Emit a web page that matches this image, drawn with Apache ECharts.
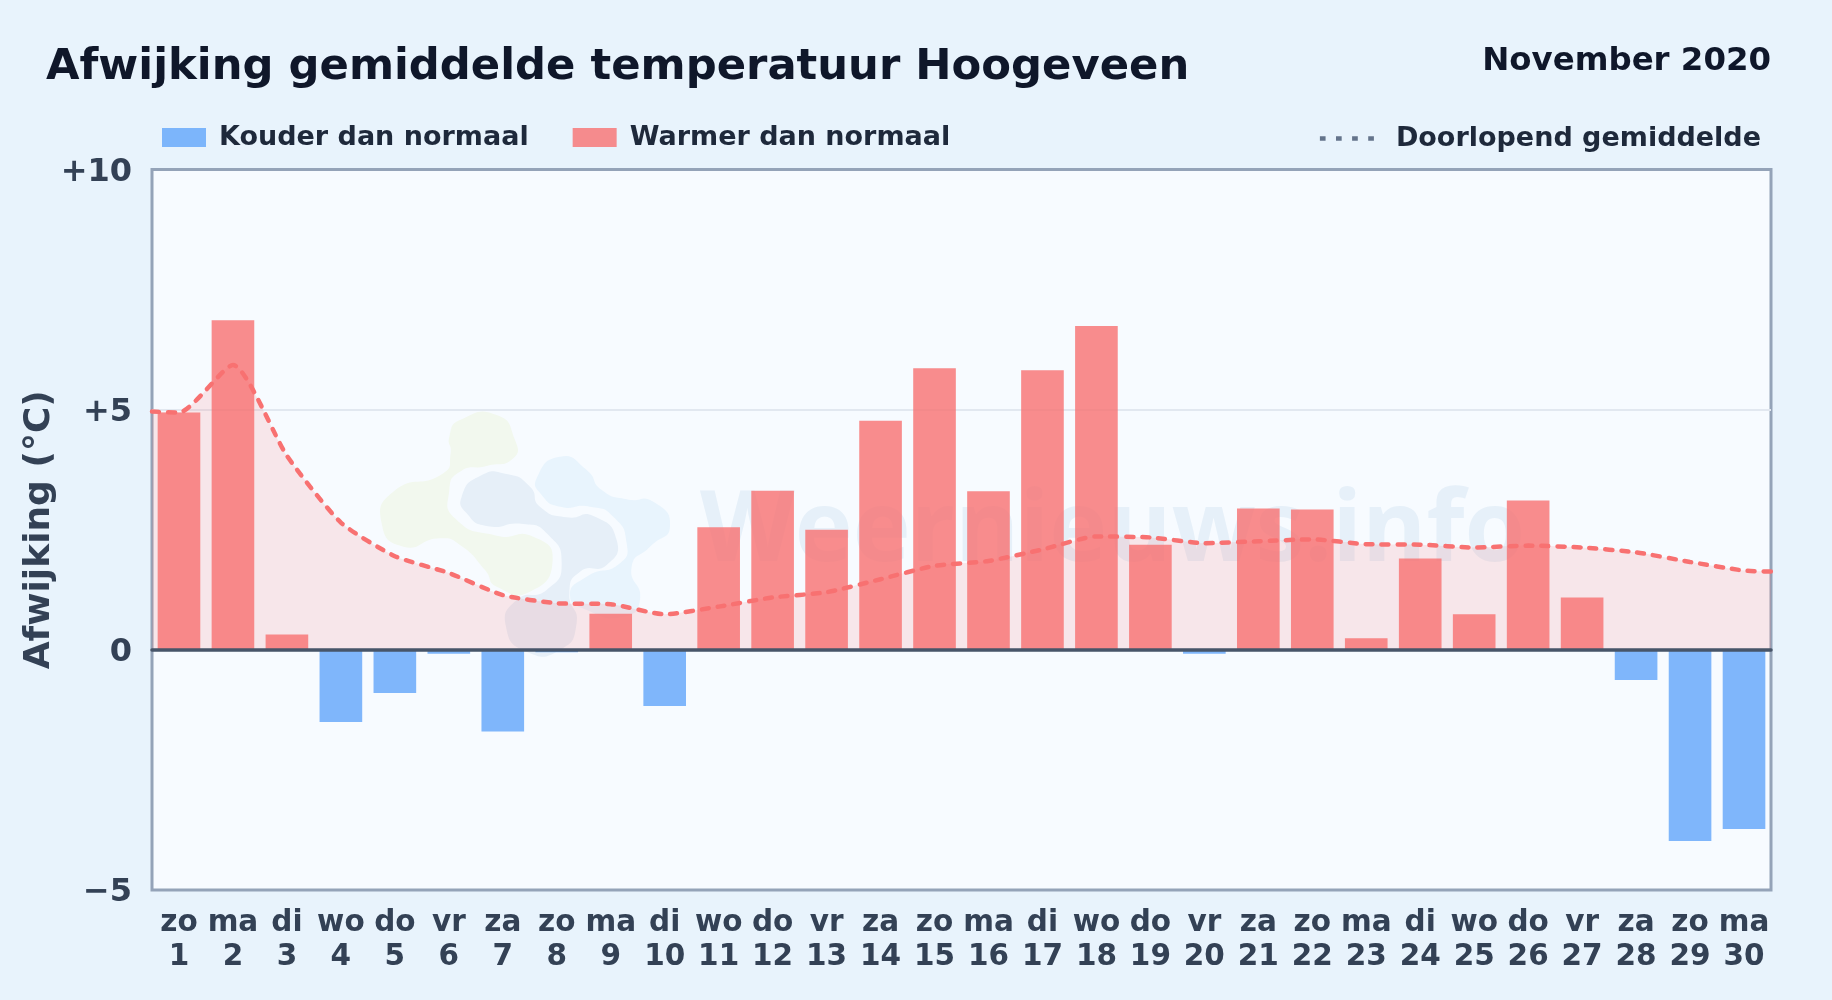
<!DOCTYPE html>
<html><head><meta charset="utf-8">
<script src="https://cdn.jsdelivr.net/npm/echarts@6/dist/echarts.min.js"></script>
<style>html,body{margin:0;padding:0;background:#e8f3fc}#c{width:1832px;height:1000px}</style>
</head><body><div id="c"></div>
<script>
const weekdays = ['zo','ma','di','wo','do','vr','za','zo','ma','di','wo','do','vr','za','zo','ma','di','wo','do','vr','za','zo','ma','di','wo','do','vr','za','zo','ma'];
const dayNumbers = [1,2,3,4,5,6,7,8,9,10,11,12,13,14,15,16,17,18,19,20,21,22,23,24,25,26,27,28,29,30];
const warmer = [4.94,6.86,0.32,null,null,null,null,null,0.75,null,2.55,3.31,2.5,4.77,5.86,3.3,5.82,6.74,2.19,null,2.94,2.92,0.24,1.9,0.74,3.11,1.09,null,null,null];
const kouder = [null,null,null,-1.5,-0.9,-0.08,-1.7,-0.05,null,-1.17,null,null,null,null,null,null,null,null,null,-0.08,null,null,null,null,null,null,null,-0.63,-3.98,-3.73];
const averageDays = [0.5,1,2,3,4,5,6,7,8,9,10,11,12,13,14,15,16,17,18,19,20,21,22,23,24,25,26,27,28,29,30,30.5];
const averageValues = [4.96,4.94,5.93,4.04,2.65,1.95,1.6,1.14,0.97,0.95,0.74,0.9,1.09,1.2,1.47,1.75,1.85,2.09,2.36,2.34,2.22,2.26,2.3,2.2,2.19,2.13,2.17,2.13,2.03,1.83,1.65,1.63];
const FONT = 'DejaVu Sans';
const chart = echarts.init(document.getElementById('c'), null, {renderer:'canvas'});
const blob = (points, fill) => ({type:'polygon', x:360, y:390, scaleX:1/3, scaleY:1/3, z:1, silent:true, shape:{points, smooth:0.6}, style:{fill}});
chart.setOption({
  animation:false,
  backgroundColor:'#e8f3fc',
  textStyle:{fontFamily:FONT},
  title:[
    {text:'Afwijking gemiddelde temperatuur Hoogeveen', left:41, top:41, textStyle:{fontFamily:FONT, fontWeight:'bold', fontSize:43.3, color:'#0f172a'}},
    {text:'November 2020', right:56, top:41, textStyle:{fontFamily:FONT, fontWeight:'bold', fontSize:32.4, color:'#0f172a'}}
  ],
  legend:[
    {left:157, top:119, itemWidth:44, itemHeight:19, itemGap:44, icon:'rect', selectedMode:false,
     data:['Kouder dan normaal','Warmer dan normaal'],
     textStyle:{fontFamily:FONT, fontWeight:'bold', fontSize:27, color:'#1e293b', padding:[9,0,0,8]}},
    {right:66, top:120, itemWidth:54, itemHeight:6, selectedMode:false,
     data:[{name:'Doorlopend gemiddelde', icon:'path://M0,0h6v5h-6zM17,0h6v5h-6zM34,0h6v5h-6zM51,0h6v5h-6z', itemStyle:{color:'#64748b',opacity:1}}],
     textStyle:{fontFamily:FONT, fontWeight:'bold', fontSize:27, color:'#1e293b', padding:[0,0,0,17]}}
  ],
  grid:{left:152, right:61, top:169.5, bottom:110, show:true, backgroundColor:'#f7fbff', borderColor:'#94a3b8', borderWidth:3, z:0},
  xAxis:[
    {type:'category', data:weekdays.map((w,i)=>w+'\n'+dayNumbers[i]), z:5,
     axisTick:{show:false},
     axisLine:{show:true,onZero:true,lineStyle:{color:'#475569',width:3.5}},
     axisLabel:{interval:0, margin:16, fontFamily:FONT, fontWeight:'bold', fontSize:29.5, lineHeight:34, color:'#334155', hideOverlap:false},
     splitLine:{show:false}},
    {type:'value', min:0.5, max:30.5, show:false, position:'bottom'}
  ],
  yAxis:{type:'value', min:-5, max:10, interval:5,
    name:'Afwijking (°C)', nameLocation:'middle', nameRotate:90, nameGap:94, nameMoveOverlap:false,
    nameTextStyle:{fontFamily:FONT, fontWeight:'bold', fontSize:36, color:'#334155'},
    axisLine:{show:false}, axisTick:{show:false},
    axisLabel:{margin:20, formatter:v=>'{t|'+(v>0?'+'+v:(v<0?'\u2212'+Math.abs(v):'0'))+'}',
      rich:{t:{fontFamily:FONT, fontWeight:'bold', fontSize:32, color:'#334155', padding:[6,0,0,0]}}},
    splitLine:{show:true,showMinLine:false,showMaxLine:false,lineStyle:{color:'#e2e8f0',width:2}}},
  graphic:[
    blob([[268,140],[300,90],[410,75],[465,150],[460,205],[380,228],[300,245],[268,300],[285,385],[410,437],[520,440],[578,510],[510,605],[410,590],[375,540],[300,465],[240,445],[130,470],[65,400],[100,305],[250,250],[272,190]],'#f2f8ee'),
    blob([[305,320],[360,258],[440,252],[510,290],[540,350],[620,382],[700,378],[770,450],[740,525],[660,545],[628,610],[650,700],[600,780],[500,785],[438,710],[470,630],[560,600],[605,520],[560,430],[490,402],[380,408],[320,370]],'#e6eff8'),
    blob([[530,265],[600,200],[680,240],[725,300],[800,328],[880,335],[930,410],[870,470],[815,530],[840,630],[790,680],[680,660],[630,615],[680,560],[780,520],[800,460],[760,380],[690,350],[600,350],[545,315]],'#e8f4fd'),
    {type:'text', x:700, y:484, z:1, silent:true,
     style:{text:'Weernieuws.info', fontFamily:'Open Sans', fontWeight:'bold', fontSize:98, fill:'#e6f0f9'}}
  ],
  series:[
    {name:'Kouder dan normaal', type:'bar', data:kouder, barWidth:'79%', barGap:'-100%', z:2, itemStyle:{color:'rgba(96,165,250,0.8)'}},
    {name:'Warmer dan normaal', type:'bar', data:warmer, barWidth:'79%', barGap:'-100%', z:2, itemStyle:{color:'rgba(248,113,113,0.8)'}},
    {name:'Doorlopend gemiddelde', type:'line', xAxisIndex:1, data:averageDays.map((d,i)=>[d,averageValues[i]]),
     showSymbol:false, symbol:'none', smooth:0.2, z:3,
     lineStyle:{color:'#f87171', width:4.5, type:[7,9], cap:'round'},
     areaStyle:{color:'rgba(248,113,113,0.15)', opacity:1}}
  ]
});
</script></body></html>
